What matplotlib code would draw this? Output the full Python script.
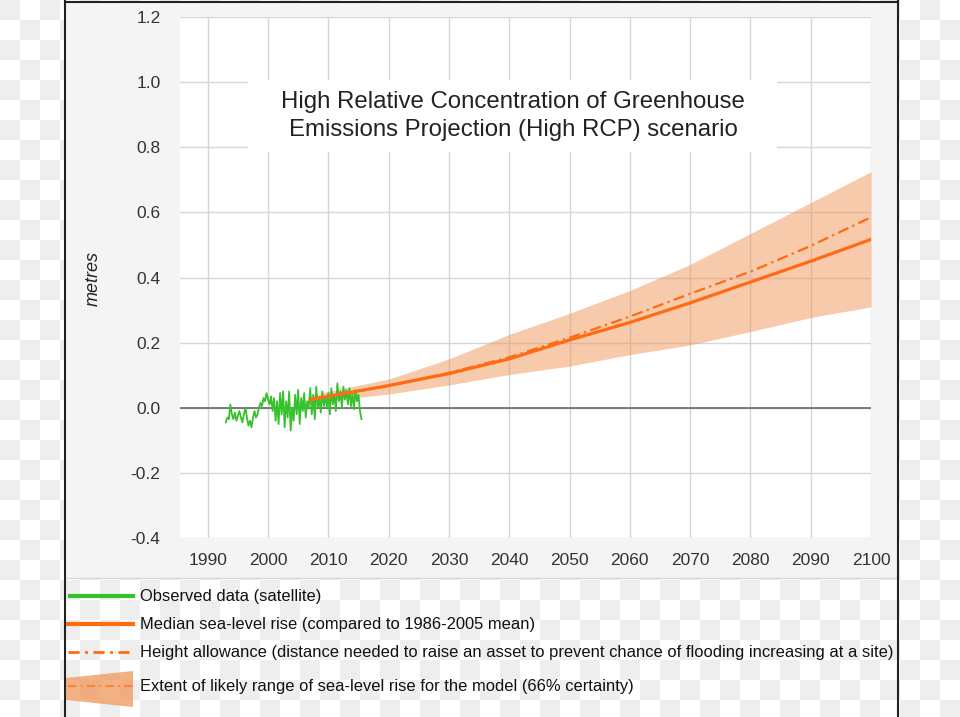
import numpy as np
import matplotlib
matplotlib.use("Agg")
import matplotlib.pyplot as plt
from matplotlib.patches import Rectangle, Polygon

# observed satellite sea level (quarterly, 1993.0 - 2015.5), metres
obs_start, obs_step = 1993.0, 0.25
obs_values = [
    -0.045, -0.03, -0.035, 0.01, -0.02, -0.035, -0.015, -0.04, -0.025, -0.01,
    -0.03, -0.045, -0.02, 0.0, -0.03, -0.055, -0.04, -0.06, -0.03, -0.01,
    -0.03, -0.02, 0.0, 0.015, 0.005, 0.03, 0.02, 0.045, 0.025, 0.01,
    0.035, -0.01, 0.03, -0.04, 0.02, -0.05, 0.045, -0.02, 0.05, -0.06,
    0.02, -0.03, 0.05, -0.07, 0.0, -0.04, 0.04, -0.02, 0.055, -0.05,
    0.03, -0.01, 0.045, -0.03, 0.02, 0.0, 0.06, -0.02, 0.04, -0.035,
    0.065, 0.0, 0.03, -0.015, 0.05, 0.005, 0.035, 0.0, 0.045, -0.02,
    0.06, 0.01, 0.04, -0.01, 0.075, 0.02, 0.05, 0.0, 0.065, 0.025,
    0.055, 0.01, 0.06, 0.005, 0.045, -0.005, 0.055, 0.02, 0.04, -0.01,
    -0.035,
]
obs_years = obs_start + obs_step * np.arange(len(obs_values))

# projection (high RCP)
proj_years = [2007, 2010, 2020, 2030, 2040, 2050, 2060, 2070, 2080, 2090, 2100]
median = [0.025, 0.035, 0.068, 0.105, 0.15, 0.208, 0.262, 0.322, 0.386, 0.45, 0.517]
allowance = [0.025, 0.035, 0.068, 0.107, 0.155, 0.215, 0.28, 0.35, 0.418, 0.497, 0.585]
upper = [0.035, 0.05, 0.088, 0.15, 0.225, 0.29, 0.36, 0.44, 0.535, 0.63, 0.725]
lower = [0.018, 0.022, 0.042, 0.07, 0.102, 0.128, 0.163, 0.193, 0.234, 0.277, 0.31]

xticks = list(range(1990, 2101, 10))
yticks = [-0.4, -0.2, 0.0, 0.2, 0.4, 0.6, 0.8, 1.0, 1.2]

title = "High Relative Concentration of Greenhouse\nEmissions Projection (High RCP) scenario"
legend_labels = [
    "Observed data (satellite)",
    "Median sea-level rise (compared to 1986-2005 mean)",
    "Height allowance (distance needed to raise an asset to prevent chance of flooding increasing at a site)",
    "Extent of likely range of sea-level rise for the model (66% certainty)",
]

green = "#36c22c"
orange = "#ff6a12"
band = "#f0965a"
sans = ["Liberation Sans", "DejaVu Sans"]

W, H = 960, 717
fig = plt.figure(figsize=(W / 100, H / 100), dpi=100)

# background: transparency checkerboard, grey panel and frame (pixel coords)
bg = fig.add_axes([0, 0, 1, 1])
sq = 20
ny, nx = H // sq + 1, W // sq + 1
checker = (np.add.outer(np.arange(ny), np.arange(nx)) % 2).astype(float)
bg.imshow(checker, cmap="gray", vmin=-14, vmax=1, extent=(0, nx * sq, ny * sq, 0),
          interpolation="nearest", aspect="auto", zorder=0)
bg.set_xlim(0, W)
bg.set_ylim(H, 0)
bg.axis("off")
bg.add_patch(Rectangle((65, 1), 833, 577, facecolor="#f4f4f4", edgecolor="none", zorder=1))
bg.plot([65, 898], [578, 578], color="#d8d8d8", lw=1, zorder=2)
bg.plot([65, 65], [1, H], color="#222222", lw=1.5, zorder=2)
bg.plot([898, 898], [1, H], color="#222222", lw=1.5, zorder=2)
bg.plot([65, 898], [1.5, 1.5], color="#222222", lw=1.5, zorder=2)

# legend rows below the panel
rows = [596, 624, 652, 686]
bg.plot([70, 133], [rows[0], rows[0]], color=green, lw=3, zorder=3)
bg.plot([68, 133], [rows[1], rows[1]], color=orange, lw=3, zorder=3)
bg.plot([68, 133], [rows[2], rows[2]], color=orange, lw=2, ls=(0, (4, 2, 1, 2)), zorder=3)
bg.add_patch(Polygon([(66, 678), (133, 671), (133, 707), (66, 700)], closed=True,
                     facecolor=band, alpha=0.75, edgecolor="none", zorder=3))
bg.plot([68, 133], [rows[3], rows[3]], color=orange, lw=1.5, ls=(0, (4, 2, 1, 2)),
        alpha=0.6, zorder=3)
leg_texts = []
for lab, y in zip(legend_labels, rows):
    leg_texts.append(bg.text(140, y, lab, va="center", ha="left", fontsize=12,
                             color="#111111", family=sans, zorder=4))

# shrink legend text so the longest line ends near x=893 like the reference
renderer = fig.canvas.get_renderer()
longest = max(t.get_window_extent(renderer).width for t in leg_texts)
fs = 12 * 752 / longest
for t in leg_texts:
    t.set_fontsize(fs)

# main plot
ax = fig.add_axes([180 / W, 1 - 538 / H, 691 / W, 521 / H])
ax.set_facecolor("white")
ax.set_xlim(1985.4, 2100)
ax.set_ylim(-0.4, 1.2)
ax.set_xticks(xticks)
ax.set_yticks(yticks)
ax.set_yticklabels([f"{v:.1f}" for v in yticks])
ax.grid(True, color="#d6d6d6", lw=1)
ax.set_axisbelow(True)
for s in ax.spines.values():
    s.set_visible(False)
ax.tick_params(length=0, labelsize=12.5, labelcolor="#333333")
ax.tick_params(axis="y", pad=14)
ax.tick_params(axis="x", pad=11)
for t in ax.get_xticklabels() + ax.get_yticklabels():
    t.set_family(sans)
ax.axhline(0, color="#666666", lw=1.2, zorder=1.5)

# title box hides grid
ax.add_patch(Rectangle((0.0984, 0.741), 0.766, 0.138, transform=ax.transAxes,
                       facecolor="white", edgecolor="none", zorder=1.2))
ax.text(0.482, 0.81, title, transform=ax.transAxes, ha="center", va="center",
        fontsize=17.3, color="#222222", linespacing=1.4, family=sans, zorder=5)

ax.fill_between(proj_years, lower, upper, color=band, alpha=0.5, lw=0, zorder=2)
ax.plot(obs_years, obs_values, color=green, lw=1.3, zorder=3)
ax.plot(proj_years, allowance, color=orange, lw=1.6, ls=(0, (5, 2, 1, 2)), zorder=4)
ax.plot(proj_years, median, color=orange, lw=2.3, zorder=4)

fig.text(93 / W, 1 - 278 / H, "metres", rotation=90, ha="center", va="center",
         fontsize=13, style="italic", color="#222222", family=sans)

fig.savefig("out.png", dpi=100)
